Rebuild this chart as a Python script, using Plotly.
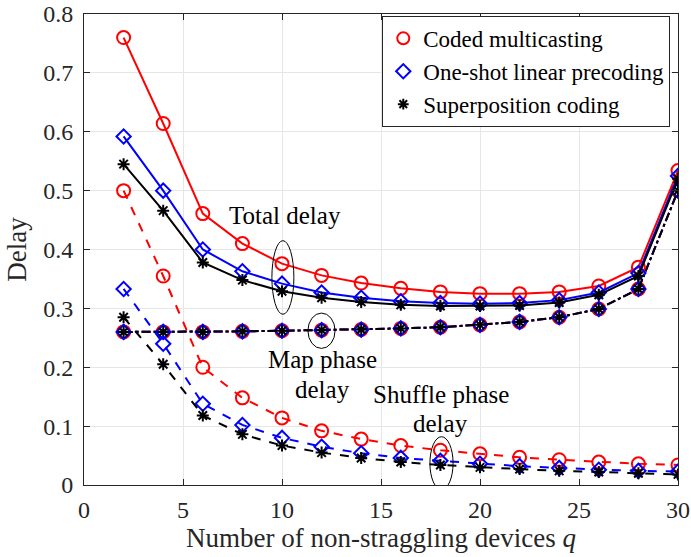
import plotly.graph_objects as go

q = [2, 4, 6, 8, 10, 12, 14, 16, 18, 20, 22, 24, 26, 28, 30]

total_cm = [0.760, 0.614, 0.461, 0.410, 0.376, 0.356, 0.343, 0.334, 0.328, 0.325, 0.325, 0.328, 0.338, 0.370, 0.534]
total_lp = [0.592, 0.500, 0.400, 0.363, 0.342, 0.327, 0.318, 0.312, 0.309, 0.308, 0.309, 0.314, 0.327, 0.360, 0.525]
total_sc = [0.545, 0.466, 0.378, 0.348, 0.329, 0.318, 0.311, 0.306, 0.304, 0.304, 0.305, 0.310, 0.323, 0.355, 0.520]

map_delay = [0.260, 0.260, 0.260, 0.261, 0.262, 0.263, 0.264, 0.266, 0.268, 0.272, 0.277, 0.285, 0.299, 0.333, 0.500]

shuf_cm = [0.500, 0.355, 0.200, 0.148, 0.114, 0.092, 0.078, 0.067, 0.059, 0.053, 0.047, 0.043, 0.039, 0.036, 0.034]
shuf_lp = [0.333, 0.240, 0.138, 0.102, 0.080, 0.065, 0.054, 0.046, 0.041, 0.036, 0.032, 0.029, 0.026, 0.024, 0.023]
shuf_sc = [0.285, 0.205, 0.118, 0.086, 0.067, 0.055, 0.046, 0.039, 0.034, 0.030, 0.027, 0.024, 0.022, 0.020, 0.018]

names = ["Coded multicasting", "One-shot linear precoding", "Superposition coding"]
colors = ["#ff0000", "#0000ff", "#000000"]
symbols = ["circle-open", "diamond-open", "asterisk-open"]
sizes = [13, 11, 10]
legend_sizes = [12, 11, 9]

FONT = "Liberation Serif, DejaVu Serif, serif"
AXC = "#262626"

fig = go.Figure()

series = [(total_cm, shuf_cm), (total_lp, shuf_lp), (total_sc, shuf_sc)]


def mk(i, s=None):
    return dict(symbol=symbols[i], size=s or sizes[i], color=colors[i],
                line=dict(width=2, color=colors[i]))


for i in range(3):
    fig.add_trace(go.Scatter(
        x=q, y=map_delay, mode="lines+markers",
        line=dict(color=colors[i], width=2, dash="dashdot"),
        marker=mk(i), showlegend=False, hoverinfo="skip"))

for i, (tot, shf) in enumerate(series):
    fig.add_trace(go.Scatter(
        x=q, y=shf, mode="lines+markers",
        line=dict(color=colors[i], width=2, dash="dash"),
        marker=mk(i), showlegend=False))
    fig.add_trace(go.Scatter(
        x=q, y=tot, mode="lines+markers",
        line=dict(color=colors[i], width=2),
        marker=mk(i), showlegend=False))

for i in range(3):
    fig.add_trace(go.Scatter(
        x=[None], y=[None], mode="markers", name=names[i],
        marker=mk(i, legend_sizes[i])))

shapes = [
    dict(type="circle", xref="x", yref="y", x0=9.49, x1=10.6, y0=0.290, y1=0.415,
         line=dict(color="black", width=1)),
    dict(type="circle", xref="x", yref="y", x0=11.31, x1=12.68, y0=0.232, y1=0.292,
         line=dict(color="black", width=1)),
    dict(type="circle", xref="x", yref="y", x0=17.47, x1=18.64, y0=-0.008, y1=0.082,
         line=dict(color="black", width=1)),
]

annotations = [
    dict(x=10.15, y=0.457, text="Total delay"),
    dict(x=12.02, y=0.213, text="Map phase"),
    dict(x=12.02, y=0.163, text="delay"),
    dict(x=18.03, y=0.1545, text="Shuffle phase"),
    dict(x=18.03, y=0.104, text="delay"),
]
for a in annotations:
    a.update(xref="x", yref="y", showarrow=False, font=dict(family=FONT, size=25, color="black"))

axis_common = dict(
    showline=True, linecolor=AXC, linewidth=1, mirror="ticks",
    ticks="inside", ticklen=6, tickcolor=AXC,
    showgrid=True, gridcolor="#e6e6e6", gridwidth=1, zeroline=False,
    tickfont=dict(family=FONT, size=24, color=AXC),
    automargin=False, ticklabeloverflow="allow",
)

fig.update_layout(
    width=691, height=557,
    margin=dict(l=84, r=13, t=14, b=72),
    plot_bgcolor="white", paper_bgcolor="white",
    xaxis=dict(range=[0, 30], dtick=5, ticklabelstandoff=3,
               title=dict(text="Number of non-straggling devices <i>q</i>",
                          font=dict(family=FONT, size=27, color=AXC), standoff=0),
               **axis_common),
    yaxis=dict(range=[0, 0.8], dtick=0.1, tickformat=".1~f", ticklabelstandoff=5,
               title=dict(text="Delay", font=dict(family=FONT, size=27, color=AXC), standoff=8),
               **axis_common),
    legend=dict(x=0.987, xanchor="right", y=0.996, yanchor="top",
                bgcolor="white", bordercolor=AXC, borderwidth=1,
                font=dict(family=FONT, size=23, color="black"),
                itemwidth=30, tracegroupgap=0),
    shapes=shapes, annotations=annotations,
)

fig.write_html("out.html", config={"displayModeBar": False},
               post_script="document.body.style.margin='0px';")
